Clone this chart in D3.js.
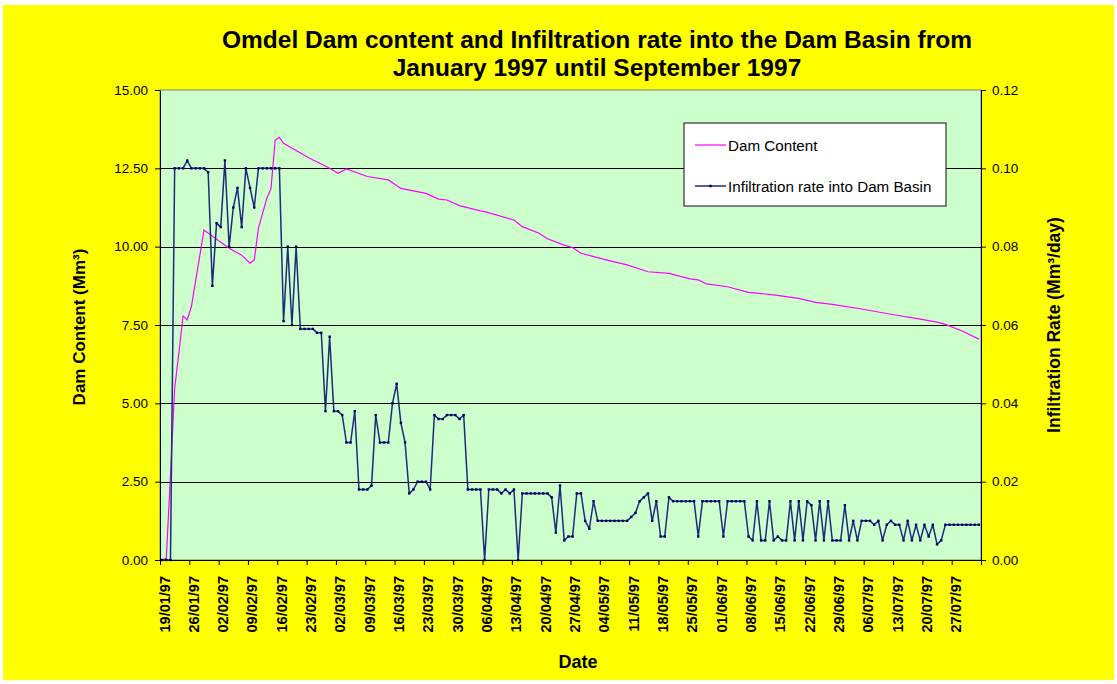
<!DOCTYPE html>
<html>
<head>
<meta charset="utf-8">
<script src="https://cdn.jsdelivr.net/npm/d3@7"></script>
<style>
  html, body { margin: 0; padding: 0; background: #ffffff; }
  svg { display: block; font-family: "Liberation Sans", Arial, sans-serif; }
</style>
</head>
<body>
<svg id="chart" width="1117" height="684"></svg>
<script>
// ---- Data ---------------------------------------------------------------
// Weekly date ticks on the x axis
const xTickLabels = [
  "19/01/97", "26/01/97", "02/02/97", "09/02/97", "16/02/97", "23/02/97",
  "02/03/97", "09/03/97", "16/03/97", "23/03/97", "30/03/97", "06/04/97",
  "13/04/97", "20/04/97", "27/04/97", "04/05/97", "11/05/97", "18/05/97",
  "25/05/97", "01/06/97", "08/06/97", "15/06/97", "22/06/97", "29/06/97",
  "06/07/97", "13/07/97", "20/07/97", "27/07/97"
];
const xAxisEnd = "03/08/97";

const leftTicks = [0, 2.5, 5, 7.5, 10, 12.5, 15];
const rightTicks = [0, 0.02, 0.04, 0.06, 0.08, 0.10, 0.12];

// Dam content (Mm³), read at the dates where the curve changes slope
const damDates = [
  "19/01/97", "20/01/97", "21/01/97", "22/01/97", "23/01/97", "24/01/97",
  "25/01/97", "26/01/97", "29/01/97", "04/02/97", "07/02/97", "09/02/97",
  "10/02/97", "11/02/97", "13/02/97", "14/02/97", "15/02/97", "16/02/97",
  "17/02/97", "23/02/97", "28/02/97", "02/03/97", "04/03/97", "09/03/97",
  "14/03/97", "17/03/97", "23/03/97", "26/03/97", "28/03/97", "31/03/97",
  "05/04/97", "06/04/97", "13/04/97", "15/04/97", "19/04/97", "21/04/97",
  "25/04/97", "27/04/97", "29/04/97", "05/05/97", "10/05/97", "15/05/97",
  "20/05/97", "25/05/97", "27/05/97", "29/05/97", "03/06/97", "08/06/97",
  "14/06/97", "20/06/97", "24/06/97", "28/06/97", "05/07/97", "13/07/97",
  "18/07/97", "23/07/97", "25/07/97", "29/07/97", "02/08/97"
];
const damContent = [
  0.00, 0.05, 2.70, 5.48, 6.60, 7.79,
  7.66, 8.09, 10.53, 9.95, 9.73, 9.47,
  9.58, 10.59, 11.54, 11.86, 13.40, 13.49,
  13.30, 12.84, 12.50, 12.34, 12.48, 12.24,
  12.13, 11.86, 11.70, 11.52, 11.49, 11.31,
  11.14, 11.12, 10.85, 10.64, 10.43, 10.25,
  10.05, 9.97, 9.79, 9.58, 9.42, 9.20,
  9.15, 8.97, 8.94, 8.81, 8.72, 8.54,
  8.46, 8.35, 8.22, 8.16, 8.01, 7.82,
  7.71, 7.59, 7.52, 7.31, 7.05
];

// Daily infiltration rate into the dam basin (Mm³/day), one value per day from 19/01/97
const infilStart = "19/01/97";
const infilRate = [
  0.000, 0.000, 0.000, 0.100, 0.100, 0.100, 0.102,
  0.100, 0.100, 0.100, 0.100, 0.099, 0.070, 0.086,
  0.085, 0.102, 0.080, 0.090, 0.095, 0.085, 0.100,
  0.095, 0.090, 0.100, 0.100, 0.100, 0.100, 0.100,
  0.100, 0.061, 0.080, 0.060, 0.080, 0.059, 0.059,
  0.059, 0.059, 0.058, 0.058, 0.038, 0.057, 0.038,
  0.038, 0.037, 0.030, 0.030, 0.038, 0.018, 0.018,
  0.018, 0.019, 0.037, 0.030, 0.030, 0.030, 0.040,
  0.045, 0.035, 0.030, 0.017, 0.018, 0.020, 0.020,
  0.020, 0.018, 0.037, 0.036, 0.036, 0.037, 0.037,
  0.037, 0.036, 0.037, 0.018, 0.018, 0.018, 0.018,
  0.000, 0.018, 0.018, 0.018, 0.017, 0.018, 0.017,
  0.018, 0.000, 0.017, 0.017, 0.017, 0.017, 0.017,
  0.017, 0.017, 0.016, 0.007, 0.019, 0.005, 0.006,
  0.006, 0.017, 0.017, 0.010, 0.008, 0.015, 0.010,
  0.010, 0.010, 0.010, 0.010, 0.010, 0.010, 0.010,
  0.011, 0.012, 0.015, 0.016, 0.017, 0.010, 0.015,
  0.006, 0.006, 0.016, 0.015, 0.015, 0.015, 0.015,
  0.015, 0.015, 0.006, 0.015, 0.015, 0.015, 0.015,
  0.015, 0.006, 0.015, 0.015, 0.015, 0.015, 0.015,
  0.006, 0.005, 0.015, 0.005, 0.005, 0.015, 0.005,
  0.006, 0.005, 0.005, 0.015, 0.005, 0.015, 0.005,
  0.015, 0.014, 0.005, 0.015, 0.005, 0.015, 0.005,
  0.005, 0.005, 0.014, 0.005, 0.010, 0.005, 0.010,
  0.010, 0.010, 0.009, 0.010, 0.005, 0.009, 0.010,
  0.009, 0.009, 0.005, 0.010, 0.005, 0.009, 0.005,
  0.009, 0.006, 0.009, 0.004, 0.005, 0.009, 0.009,
  0.009, 0.009, 0.009, 0.009, 0.009, 0.009, 0.009
];

// ---- Layout ---------------------------------------------------------------
const parse = d3.timeParse("%d/%m/%y");
const W = 1117, H = 684;
const plot = { left: 160, right: 981, top: 90, bottom: 560 };
const halfDay = 12; // points sit in the middle of their day

const svg = d3.select("#chart");

// chart area
svg.append("rect")
  .attr("x", 3).attr("y", 5).attr("width", W - 6).attr("height", H - 9)
  .attr("fill", "#ffff00");

const x = d3.scaleTime()
  .domain([parse(xTickLabels[0]), parse(xAxisEnd)])
  .range([plot.left, plot.right]);
const yL = d3.scaleLinear().domain([0, 15]).range([plot.bottom, plot.top]);
const yR = d3.scaleLinear().domain([0, 0.12]).range([plot.bottom, plot.top]);

const px = d => x(d3.timeHour.offset(d, halfDay));

// plot area
svg.append("rect")
  .attr("x", plot.left).attr("y", plot.top)
  .attr("width", plot.right - plot.left).attr("height", plot.bottom - plot.top)
  .attr("fill", "#ccffcc").attr("stroke", "#808080").attr("stroke-width", 1);

// gridlines
svg.append("g").selectAll("line")
  .data(leftTicks.filter(v => v > 0 && v < 15))
  .join("line")
  .attr("x1", plot.left).attr("x2", plot.right)
  .attr("y1", d => Math.round(yL(d)) + 0.5).attr("y2", d => Math.round(yL(d)) + 0.5)
  .attr("stroke", "#000").attr("stroke-width", 1);

// ---- Axes ---------------------------------------------------------------
const tickDates = xTickLabels.map(parse).concat([parse(xAxisEnd)]);

const xAxis = svg.append("g")
  .attr("transform", `translate(0,${plot.bottom})`)
  .call(d3.axisBottom(x).tickValues(tickDates).tickSize(5).tickSizeOuter(0).tickFormat(""));
xAxis.select(".domain").attr("stroke", "#000");
xAxis.selectAll(".tick line").attr("stroke", "#000");

// rotated date labels
svg.append("g").selectAll("text")
  .data(xTickLabels)
  .join("text")
  .attr("transform", d => `translate(${x(parse(d)) + 9.5},${plot.bottom + 16}) rotate(-90)`)
  .attr("text-anchor", "end")
  .attr("font-size", 14.5).attr("font-weight", "bold").attr("fill", "#000")
  .text(d => d);

const leftAxis = svg.append("g")
  .attr("transform", `translate(${plot.left},0)`)
  .call(d3.axisLeft(yL).tickValues(leftTicks).tickSize(5).tickSizeOuter(0)
    .tickPadding(7).tickFormat(d3.format(".2f")));
leftAxis.select(".domain").attr("stroke", "#000");
leftAxis.selectAll(".tick line").attr("stroke", "#000");
leftAxis.selectAll("text").attr("font-size", 13.5).attr("font-family", "Liberation Sans, Arial, sans-serif").attr("fill", "#000");

const rightAxis = svg.append("g")
  .attr("transform", `translate(${plot.right},0)`)
  .call(d3.axisRight(yR).tickValues(rightTicks).tickSize(5).tickSizeOuter(0)
    .tickPadding(6).tickFormat(d3.format(".2f")));
rightAxis.select(".domain").attr("stroke", "#000");
rightAxis.selectAll(".tick line").attr("stroke", "#000");
rightAxis.selectAll("text").attr("font-size", 13.5).attr("font-family", "Liberation Sans, Arial, sans-serif").attr("fill", "#000");

// ---- Series ---------------------------------------------------------------
const damData = damDates.map((d, i) => ({ date: parse(d), v: damContent[i] }));
const start = parse(infilStart);
const infilData = infilRate.map((v, i) => ({ date: d3.timeDay.offset(start, i), v }));

svg.append("path")
  .datum(damData)
  .attr("fill", "none").attr("stroke", "#ff00ff").attr("stroke-width", 1.2)
  .attr("d", d3.line().x(d => px(d.date)).y(d => yL(d.v)));

svg.append("path")
  .datum(infilData)
  .attr("fill", "none").attr("stroke", "#1c2a80").attr("stroke-width", 1.5)
  .attr("stroke-linejoin", "round")
  .attr("d", d3.line().x(d => px(d.date)).y(d => yR(d.v)));

svg.append("g").selectAll("rect")
  .data(infilData)
  .join("rect")
  .attr("x", d => px(d.date) - 1.2).attr("y", d => yR(d.v) - 1.2)
  .attr("width", 2.4).attr("height", 2.4)
  .attr("fill", "#000060");

// ---- Titles ---------------------------------------------------------------
svg.append("text")
  .attr("x", 597).attr("y", 48).attr("text-anchor", "middle")
  .attr("font-size", 24.5).attr("font-weight", "bold").attr("fill", "#000")
  .text("Omdel Dam content and Infiltration rate into the Dam Basin from");
svg.append("text")
  .attr("x", 597).attr("y", 76).attr("text-anchor", "middle")
  .attr("font-size", 24.5).attr("font-weight", "bold").attr("fill", "#000")
  .text("January 1997 until September 1997");

svg.append("text")
  .attr("x", 578).attr("y", 668).attr("text-anchor", "middle")
  .attr("font-size", 18).attr("font-weight", "bold").attr("fill", "#000")
  .text("Date");

svg.append("text")
  .attr("transform", `translate(85,${(plot.top + plot.bottom) / 2 + 2}) rotate(-90)`)
  .attr("text-anchor", "middle")
  .attr("font-size", 17).attr("font-weight", "bold").attr("fill", "#000")
  .text("Dam Content (Mm³)");

svg.append("text")
  .attr("transform", `translate(1060,${(plot.top + plot.bottom) / 2}) rotate(-90)`)
  .attr("text-anchor", "middle")
  .attr("font-size", 17.5).attr("font-weight", "bold").attr("fill", "#000")
  .text("Infiltration Rate (Mm³/day)");

// ---- Legend ---------------------------------------------------------------
const legend = svg.append("g").attr("transform", "translate(684,123)");
legend.append("rect")
  .attr("x", 0).attr("y", 0).attr("width", 262).attr("height", 83)
  .attr("fill", "#ffffff").attr("stroke", "#333").attr("stroke-width", 1.2);

const legendItems = [
  { label: "Dam Content", color: "#ff00ff", width: 1.2, marker: false, y: 22 },
  { label: "Infiltration rate into Dam Basin", color: "#1c2a80", width: 1.5, marker: true, y: 63 }
];
legendItems.forEach(it => {
  legend.append("line")
    .attr("x1", 11).attr("x2", 42).attr("y1", it.y).attr("y2", it.y)
    .attr("stroke", it.color).attr("stroke-width", it.width);
  if (it.marker) {
    legend.append("rect")
      .attr("x", 26.5 - 1.2).attr("y", it.y - 1.2).attr("width", 2.4).attr("height", 2.4)
      .attr("fill", "#000060");
  }
  legend.append("text")
    .attr("x", 44).attr("y", it.y + 5.5)
    .attr("font-size", 15.2).attr("fill", "#000")
    .text(it.label);
});
</script>
</body>
</html>
